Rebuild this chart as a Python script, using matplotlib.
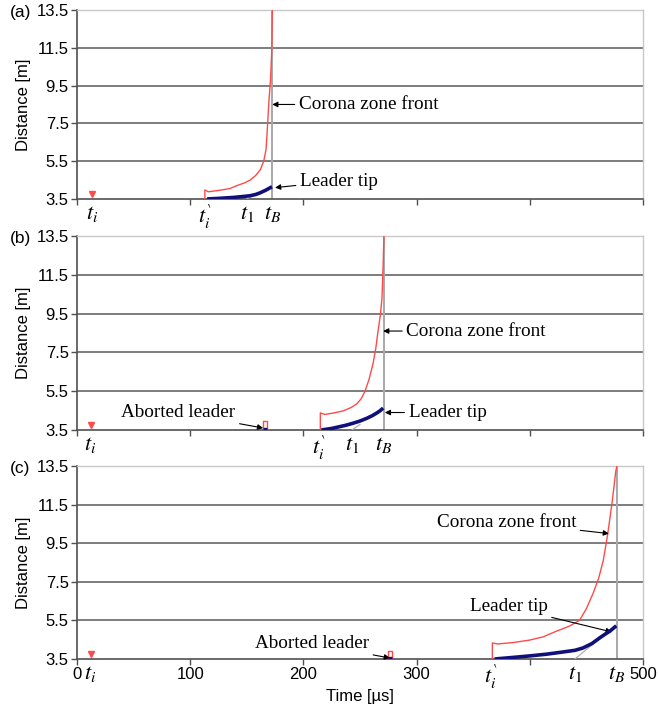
import matplotlib
matplotlib.use("Agg")
import matplotlib.pyplot as plt
from matplotlib.transforms import blended_transform_factory

plt.rcParams["font.family"] = ["Liberation Sans", "DejaVu Sans"]
plt.rcParams["mathtext.fontset"] = "stix"

# ---------- data (time in µs, distance in m) ----------

# (a)
CORONA_A_T = [113, 113, 116, 125, 135, 141, 148, 153, 158, 162, 165, 167, 168, 169.5, 171, 172.2, 172.6]
CORONA_A_D = [3.5, 3.98, 3.88, 3.95, 4.05, 4.2, 4.35, 4.5, 4.75, 5.05, 5.5, 6.1, 7.0, 8.6, 9.8, 11.5, 13.5]
LEADER_A_T = [115, 125, 138, 145, 153, 158, 162, 167, 172.3]
LEADER_A_D = [3.5, 3.53, 3.58, 3.62, 3.67, 3.74, 3.83, 3.97, 4.15]

# (b)
CORONA_B_T = [215, 215, 219, 227, 235, 242, 247, 251, 254.5, 258, 261.5, 264, 266, 268, 269.5, 270.5, 271.2]
CORONA_B_D = [3.5, 4.38, 4.3, 4.38, 4.48, 4.65, 4.84, 5.1, 5.5, 6.1, 6.9, 7.7, 8.6, 9.4, 10.3, 12.0, 13.5]
LEADER_B_T = [216, 225, 232, 238, 244, 250, 256, 261, 265, 268, 270.5]
LEADER_B_D = [3.5, 3.58, 3.67, 3.75, 3.85, 3.96, 4.1, 4.24, 4.38, 4.5, 4.63]
ABORTED_B_T = [164, 164, 168, 168]
ABORTED_B_D = [3.5, 3.96, 3.96, 3.5]

# (c)
CORONA_C_T = [367, 367, 372, 385, 400, 412, 424, 435, 444, 450, 456, 461, 465, 469, 473, 476, 477]
CORONA_C_D = [3.5, 4.33, 4.28, 4.35, 4.48, 4.65, 4.95, 5.2, 5.5, 6.1, 6.9, 7.7, 8.6, 10.0, 11.7, 13.2, 13.5]
LEADER_C_T = [369, 385, 400, 415, 429, 440, 447, 455, 462, 467, 471, 476.5]
LEADER_C_D = [3.5, 3.58, 3.66, 3.75, 3.86, 3.95, 4.07, 4.3, 4.6, 4.8, 4.95, 5.22]
ABORTED_C_T = [275, 275, 278, 278]
ABORTED_C_D = [3.5, 3.9, 3.9, 3.5]

# characteristic times: t_i, t_i`, t_1, t_B
TIMES_A = [13, 113, 150, 172.6]
TIMES_B = [12, 214, 243, 271.2]
TIMES_C = [12, 366, 440, 477]

Y_TICKS = [3.5, 5.5, 7.5, 9.5, 11.5, 13.5]
X_TICKS = [0, 100, 200, 300, 400, 500]
X_TICKLABELS = ["0", "100", "200", "300", "", "500"]

RED = "#ff4a4a"
NAVY = "#10107a"
GREY = "#a8a8a8"


def setup_axes(ax, panel, show_xlabels):
    ax.set_xlim(0, 500)
    ax.set_ylim(3.5, 13.5)
    ax.set_yticks(Y_TICKS)
    ax.set_yticklabels([f"{v:.1f}" for v in Y_TICKS], fontsize=12)
    ax.set_xticks(X_TICKS)
    if show_xlabels:
        ax.set_xticklabels(X_TICKLABELS, fontsize=12)
        ax.set_xlabel("Time [µs]", fontsize=12, labelpad=5)
    else:
        ax.set_xticklabels([])
    ax.tick_params(axis="both", direction="out", length=4, width=1.0, color="#505050", pad=2)
    ax.yaxis.grid(True, color="#5a5a5a", lw=1.1)
    ax.get_ygridlines()[-1].set_visible(False)
    ax.get_ygridlines()[0].set_visible(False)
    ax.set_axisbelow(True)
    for side in ("left", "bottom"):
        ax.spines[side].set_color("#505050")
        ax.spines[side].set_linewidth(1.2)
    for side in ("top", "right"):
        ax.spines[side].set_color("#c8c8c8")
        ax.spines[side].set_linewidth(1.0)
    ax.set_ylabel("Distance [m]", fontsize=12, labelpad=4)
    ax.text(-0.118, 0.985, f"({panel})", transform=ax.transAxes, fontsize=12.5, va="center", ha="left")


def draw_run(ax, corona_t, corona_d, leader_t, leader_d, times, tangent_end):
    ti, ti2, t1, tb = times
    ax.plot([tb, tb], [3.5, 13.5], color=GREY, lw=1.4, zorder=2)
    ax.plot(corona_t, corona_d, color=RED, lw=1.0, zorder=3)
    ax.plot(leader_t, leader_d, color=NAVY, lw=2.6, zorder=4, solid_capstyle="butt")
    ax.plot([t1, tangent_end[0]], [3.5, tangent_end[1]], color="#b0b0b0", lw=0.9, zorder=3)
    ax.plot([ti], [3.78], marker="v", ms=4, color=RED, mec=RED, zorder=4, clip_on=False)

    trans = blended_transform_factory(ax.transData, ax.transAxes)
    labels = [r"$t_i$", r"$t^{\backprime}_{i}$", r"$t_1$", r"$t_B$"]
    for t, lab in zip(times, labels):
        ax.text(t, -0.02, lab, transform=trans, ha="center", va="top", fontsize=16, clip_on=False)


def draw_aborted(ax, t, d):
    ax.plot(t, d, color=RED, lw=1.0, zorder=3)
    ax.plot([t[0], t[-1]], [3.53, 3.53], color=NAVY, lw=2.4, zorder=4, solid_capstyle="butt")


def note(ax, text, xy, xytext, ha="left"):
    ax.annotate(text, xy=xy, xytext=xytext, fontsize=13.8, family="Liberation Serif",
                ha=ha, va="center",
                arrowprops=dict(arrowstyle="-|>", color="black", lw=0.8,
                                mutation_scale=8, shrinkA=1, shrinkB=0))


fig = plt.figure(figsize=(6.58, 7.17), dpi=100)
ax_a = fig.add_axes([0.117, 0.7225, 0.860, 0.2636])
ax_b = fig.add_axes([0.117, 0.4003, 0.860, 0.2706])
ax_c = fig.add_axes([0.117, 0.0809, 0.860, 0.2691])

setup_axes(ax_a, "a", False)
setup_axes(ax_b, "b", False)
setup_axes(ax_c, "c", True)

draw_run(ax_a, CORONA_A_T, CORONA_A_D, LEADER_A_T, LEADER_A_D, TIMES_A, (158, 3.74))
note(ax_a, "Corona zone front", (172.5, 8.5), (196, 8.5))
note(ax_a, "Leader tip", (175, 4.1), (197, 4.45))

draw_run(ax_b, CORONA_B_T, CORONA_B_D, LEADER_B_T, LEADER_B_D, TIMES_B, (250, 3.78))
draw_aborted(ax_b, ABORTED_B_T, ABORTED_B_D)
note(ax_b, "Corona zone front", (270.5, 8.6), (291, 8.6))
note(ax_b, "Leader tip", (272, 4.4), (293, 4.4))
note(ax_b, "Aborted leader", (164.5, 3.6), (140, 4.4), ha="right")

draw_run(ax_c, CORONA_C_T, CORONA_C_D, LEADER_C_T, LEADER_C_D, TIMES_C, (456, 4.28))
draw_aborted(ax_c, ABORTED_C_T, ABORTED_C_D)
note(ax_c, "Corona zone front", (470, 10.0), (441, 10.6), ha="right")
note(ax_c, "Leader tip", (472.5, 4.9), (347, 6.2))
note(ax_c, "Aborted leader", (276.5, 3.55), (258, 4.3), ha="right")

fig.savefig("out.png", dpi=100)
